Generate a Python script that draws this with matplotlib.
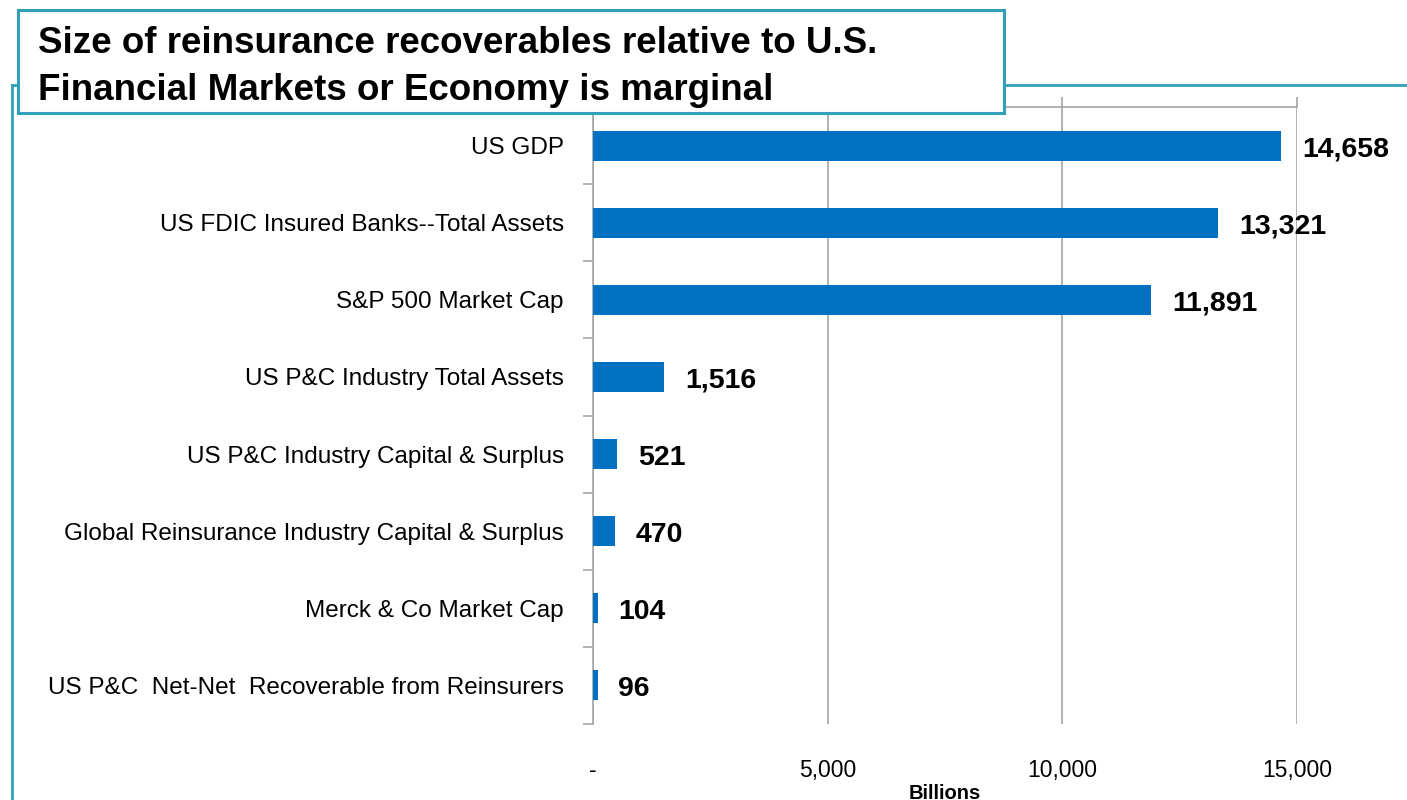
import matplotlib
matplotlib.use("Agg")
import matplotlib.pyplot as plt
from matplotlib.lines import Line2D
from matplotlib.patches import Rectangle
from matplotlib.ticker import FixedLocator, FuncFormatter

categories = [
    "US GDP",
    "US FDIC Insured Banks--Total Assets",
    "S&P 500 Market Cap",
    "US P&C Industry Total Assets",
    "US P&C Industry Capital & Surplus",
    "Global Reinsurance Industry Capital & Surplus",
    "Merck & Co Market Cap",
    "US P&C  Net-Net  Recoverable from Reinsurers",
]
values = [14658, 13321, 11891, 1516, 521, 470, 104, 96]
x_ticks = [0, 5000, 10000, 15000]

title = "Size of reinsurance recoverables relative to U.S.\nFinancial Markets or Economy is marginal"

BAR_COLOR = "#0070C0"
TEAL = "#31A0B8"
GRID = "#A6A6A6"
FONT = ["Liberation Sans", "DejaVu Sans"]

W, H = 1407, 800
fig = plt.figure(figsize=(W / 100, H / 100), dpi=100)
ax = fig.add_axes([593 / W, 1 - 724 / H, (1297 - 593) / W, (724 - 107) / H])

pos = list(range(len(categories)))
bars = ax.barh(pos, values, height=0.39, color=BAR_COLOR, zorder=3)
ax.set_ylim(len(categories) - 0.5, -0.5)
ax.set_xlim(0, 15000)

for bar, v in zip(bars, values):
    ax.annotate(f"{v:,}", xy=(bar.get_width(), bar.get_y() + bar.get_height() / 2),
                xytext=(15, -2.5), textcoords="offset points", ha="left", va="center",
                fontsize=20.5, fontweight="bold", family=FONT, color="black")

# y axis: category labels, ticks between categories
ax.set_yticks(pos)
ax.set_yticklabels(categories, family=FONT, fontsize=17.5)
ax.yaxis.set_minor_locator(FixedLocator([p - 0.5 for p in pos] + [len(pos) - 0.5]))
ax.tick_params(axis="y", which="major", length=0, pad=21)
ax.tick_params(axis="y", which="minor", length=7, color=GRID, width=1.2, direction="out")

# x axis: grid lines, labels far below
ax.xaxis.set_major_locator(FixedLocator(x_ticks))
ax.xaxis.set_major_formatter(FuncFormatter(lambda v, _: "-" if v == 0 else f"{int(v):,}"))
ax.tick_params(axis="x", which="major", bottom=False, top=True, length=7, color=GRID,
               width=1.2, pad=18, labelsize=16.5)
for lab in ax.get_xticklabels():
    lab.set_family(FONT)
ax.grid(axis="x", color=GRID, linewidth=1.2, zorder=0)
ax.set_xlabel("Billions", fontsize=14.5, fontweight="bold", family=FONT)
ax.xaxis.set_label_coords(0.5, -0.097)

for side in ["right", "bottom"]:
    ax.spines[side].set_visible(False)
ax.spines["left"].set_color(GRID)
ax.spines["top"].set_color(GRID)
ax.spines["left"].set_linewidth(1.2)
ax.spines["top"].set_linewidth(1.2)

# outer frame lines and title box
fig.add_artist(Line2D([12 / W, 12 / W], [0, 1 - 85 / H], color=TEAL, linewidth=2, transform=fig.transFigure))
fig.add_artist(Line2D([12 / W, 1], [1 - 85 / H, 1 - 85 / H], color=TEAL, linewidth=2, transform=fig.transFigure))
fig.add_artist(Rectangle((18 / W, 1 - 113 / H), (1004 - 18) / W, (113 - 10) / H,
                         transform=fig.transFigure, facecolor="white", edgecolor=TEAL, linewidth=2.2, zorder=5))
fig.text(38 / W, 1 - 67 / H, title, fontsize=26.5, fontweight="bold", family=FONT,
         ha="left", va="center", linespacing=1.45, zorder=6)

fig.savefig("out.png", dpi=100, facecolor="white")
